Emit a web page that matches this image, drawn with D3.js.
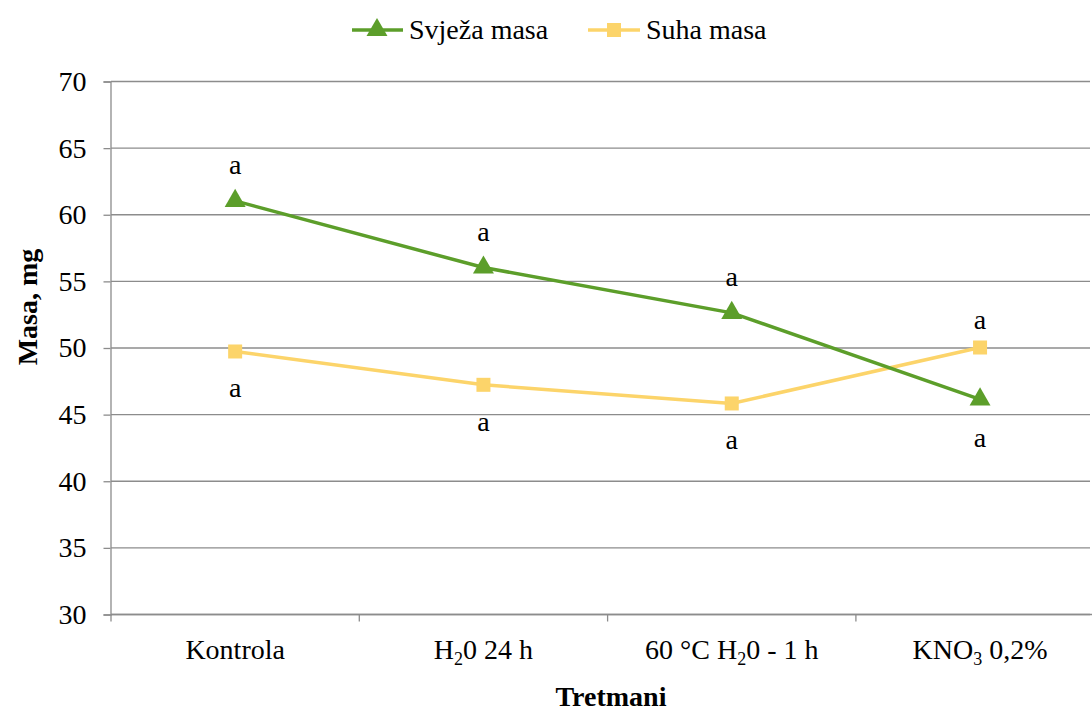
<!DOCTYPE html>
<html lang="en">
<head>
<meta charset="utf-8">
<title>Masa</title>
<script src="https://d3js.org/d3.v7.min.js"></script>
<style>
  body { margin: 0; background: #fff; }
</style>
</head>
<body>
<script>
// data
var categories = ["Kontrola", "H20 24 h", "60 °C H20 - 1 h", "KNO3 0,2%"];
var svjeza = [61.0, 56.0, 52.6, 46.1];
var suha = [49.7, 47.2, 45.8, 50.0];
var svjezaLetters = ["a", "a", "a", "a"];
var suhaLetters = ["a", "a", "a", "a"];
var yTicks = [30, 35, 40, 45, 50, 55, 60, 65, 70];
// label parts for subscripts: [text, isSub]
var catParts = [
  [["Kontrola", false]],
  [["H", false], ["2", true], ["0 24 h", false]],
  [["60 °C H", false], ["2", true], ["0 - 1 h", false]],
  [["KNO", false], ["3", true], [" 0,2%", false]]
];

var svgWidth = 1092, svgHeight = 713,
    margin = {top: 81, left: 111, bottom: 99, right: 2},
    green = "#5c9e2a", yellow = "#fcd46a", grid = "#8c8c8c",
    serif = "'Liberation Serif', 'Times New Roman', Times, serif",
    fs = "28px";

var svg = d3.select("body").append("svg")
    .attr("width", svgWidth)
    .attr("height", svgHeight)
    .style("font-family", serif);

var x = d3.scaleBand()
    .domain(categories)
    .range([margin.left, margin.left + 4 * 248.3]);

var y = d3.scaleLinear()
    .domain([30, 70])
    .range([614, 81]);

// gridlines
svg.append("g").selectAll("line")
    .data(yTicks)
    .enter().append("line")
    .attr("x1", margin.left)
    .attr("x2", svgWidth - 2)
    .attr("y1", function(d) { return y(d) + 0.5; })
    .attr("y2", function(d) { return y(d) + 0.5; })
    .attr("stroke", grid)
    .attr("stroke-width", 1.3);

// y axis
var yAxis = svg.append("g")
    .attr("transform", "translate(" + (margin.left - 0.5) + ",0.5)")
    .call(d3.axisLeft(y).tickValues(yTicks).tickSize(7).tickPadding(17));
yAxis.attr("font-family", null).attr("font-size", null);
yAxis.select(".domain").attr("stroke", grid).attr("stroke-width", 1.3);
yAxis.selectAll(".tick line").attr("stroke", grid).attr("stroke-width", 1.3);
yAxis.selectAll(".tick text")
    .style("font-family", serif)
    .style("font-size", fs)
    .attr("fill", "#000");

// x axis (ticks at category boundaries)
var xAxisG = svg.append("g").attr("transform", "translate(0," + (y(30) + 0.5) + ")");
xAxisG.append("line")
    .attr("x1", margin.left).attr("x2", svgWidth)
    .attr("stroke", grid).attr("stroke-width", 1.3);
xAxisG.selectAll(".bt")
    .data(categories.slice(1))
    .enter().append("line")
    .attr("class", "bt")
    .attr("x1", function(d) { return x(d); })
    .attr("x2", function(d) { return x(d); })
    .attr("y1", 0).attr("y2", 7)
    .attr("stroke", grid).attr("stroke-width", 1.3);
xAxisG.selectAll(".lt")
    .data([margin.left])
    .enter().append("line")
    .attr("x1", function(d) { return d; }).attr("x2", function(d) { return d; })
    .attr("y1", 0).attr("y2", 7)
    .attr("stroke", grid).attr("stroke-width", 1.3);

var catLabels = xAxisG.selectAll(".cl")
    .data(categories)
    .enter().append("text")
    .attr("class", "cl")
    .attr("x", function(d) { return x(d) + x.bandwidth() / 2; })
    .attr("y", 44)
    .attr("text-anchor", "middle")
    .style("font-family", serif)
    .style("font-size", fs);
catLabels.each(function(d, i) {
  var t = d3.select(this);
  catParts[i].forEach(function(p, j) {
    var prevSub = j > 0 && catParts[i][j - 1][1];
    t.append("tspan")
      .style("font-size", p[1] ? "18px" : fs)
      .attr("dy", p[1] ? 6 : (prevSub ? -6 : 0))
      .text(p[0]);
  });
});

// axis titles
svg.append("text")
    .attr("x", 611)
    .attr("y", 706)
    .attr("text-anchor", "middle")
    .style("font-family", serif)
    .style("font-size", fs)
    .style("font-weight", "bold")
    .text("Tretmani");

svg.append("text")
    .attr("transform", "translate(37,307) rotate(-90)")
    .attr("text-anchor", "middle")
    .style("font-family", serif)
    .style("font-size", fs)
    .style("font-weight", "bold")
    .text("Masa, mg");

// lines
var cx = function(i) { return x(categories[i]) + x.bandwidth() / 2; };
var line = d3.line()
    .x(function(d, i) { return cx(i); })
    .y(function(d) { return y(d); });

svg.append("path").datum(suha)
    .attr("d", line).attr("fill", "none")
    .attr("stroke", yellow).attr("stroke-width", 3.5);
svg.append("path").datum(svjeza)
    .attr("d", line).attr("fill", "none")
    .attr("stroke", green).attr("stroke-width", 3.5);

var tri = d3.symbol().type(d3.symbolTriangle).size(190);
svg.append("g").selectAll("path")
    .data(svjeza)
    .enter().append("path")
    .attr("transform", function(d, i) { return "translate(" + cx(i) + "," + y(d) + ")"; })
    .attr("d", tri)
    .attr("fill", green);

svg.append("g").selectAll("rect")
    .data(suha)
    .enter().append("rect")
    .attr("x", function(d, i) { return cx(i) - 7; })
    .attr("y", function(d) { return y(d) - 7; })
    .attr("width", 14).attr("height", 14)
    .attr("fill", yellow);

// significance letters: above the higher series, below the lower one
function letters(vals, other, lts, upOff, downOff) {
  svg.append("g").selectAll("text")
    .data(vals)
    .enter().append("text")
    .attr("x", function(d, i) { return cx(i); })
    .attr("y", function(d, i) { return y(d) + (d >= other[i] ? upOff : downOff); })
    .attr("text-anchor", "middle")
    .style("font-family", serif)
    .style("font-size", fs)
    .text(function(d, i) { return lts[i]; });
}
letters(svjeza, suha, svjezaLetters, -27, 48);
letters(suha, svjeza, suhaLetters, -19, 46);

// legend
var legend = svg.append("g").attr("transform", "translate(0,30)");
legend.append("line").attr("x1", 352).attr("x2", 403)
    .attr("stroke", green).attr("stroke-width", 3.5);
legend.append("path").attr("transform", "translate(377,0)")
    .attr("d", tri).attr("fill", green);
legend.append("text").attr("x", 409).attr("y", 9)
    .style("font-family", serif).style("font-size", fs)
    .text("Svježa masa");
legend.append("line").attr("x1", 588).attr("x2", 640)
    .attr("stroke", yellow).attr("stroke-width", 3.5);
legend.append("rect").attr("x", 607).attr("y", -7)
    .attr("width", 14).attr("height", 14).attr("fill", yellow);
legend.append("text").attr("x", 646).attr("y", 9)
    .style("font-family", serif).style("font-size", fs)
    .text("Suha masa");
</script>
</body>
</html>
